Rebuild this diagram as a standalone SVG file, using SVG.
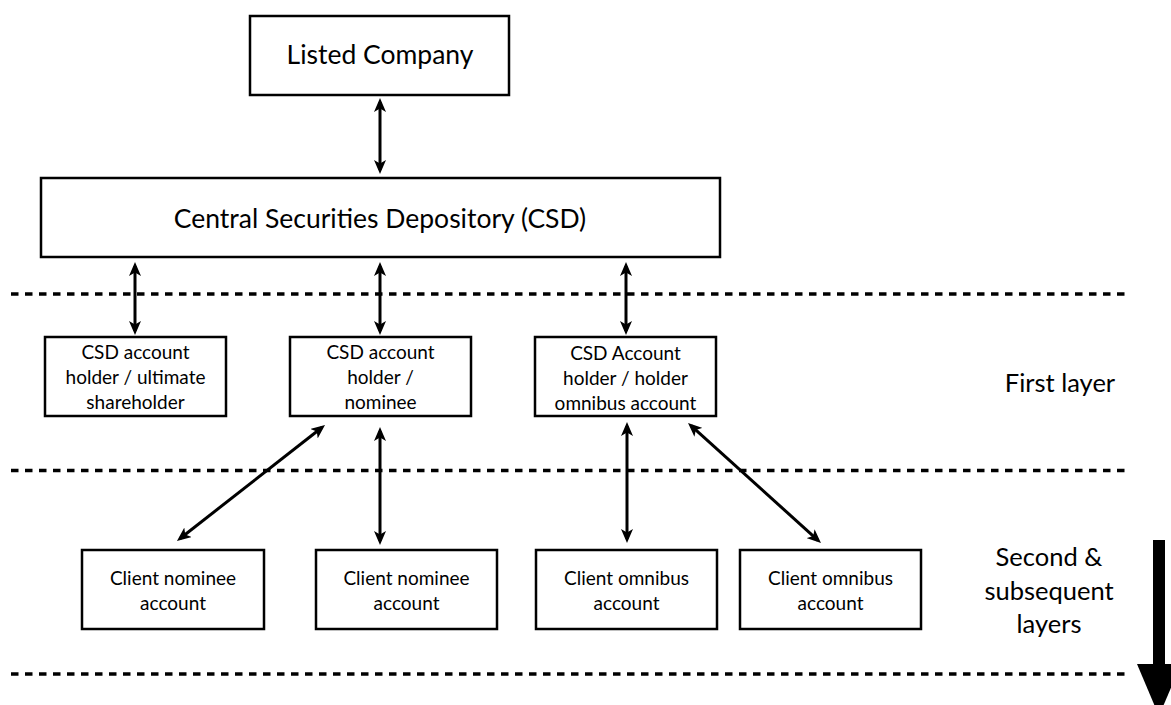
<svg xmlns="http://www.w3.org/2000/svg" width="1171" height="705" viewBox="0 0 1171 705">
<defs>
<marker id="ah" viewBox="0 0 14 12" refX="10" refY="6" markerWidth="14" markerHeight="12" markerUnits="userSpaceOnUse" orient="auto-start-reverse">
<path d="M0,0 L14,6 L0,12 L3.5,6 z" fill="#000"/>
</marker>
</defs>
<style>
.box{fill:#fff;stroke:#000;stroke-width:2.5}
.t{font-family:Lato,"Liberation Sans",sans-serif;fill:#000;text-anchor:middle}
.big{font-size:26.5px}
.mid{font-size:19px}
.sm{font-size:19px}
.lbl{font-size:25.5px}
.dash{stroke:#000;stroke-width:3.5;stroke-dasharray:7.5 6.5;fill:none}
.con{stroke:#000;stroke-width:3;fill:none;marker-start:url(#ah);marker-end:url(#ah)}
</style>
<rect width="1171" height="705" fill="#fff"/>
<g id="layers">
<line class="dash" x1="11" y1="294" x2="1130" y2="294"/>
<line class="dash" x1="11" y1="470.5" x2="1130" y2="470.5"/>
<line class="dash" x1="11" y1="674" x2="1130" y2="674"/>
</g>
<g id="connectors">
<line class="con" x1="380" y1="102" x2="380" y2="170"/>
<line class="con" x1="135" y1="266" x2="135" y2="331"/>
<line class="con" x1="380" y1="266" x2="380" y2="331"/>
<line class="con" x1="626" y1="266" x2="626" y2="331"/>
<line class="con" x1="321.9" y1="427.5" x2="180.1" y2="538.5"/>
<line class="con" x1="380" y1="431" x2="380" y2="541"/>
<line class="con" x1="627" y1="426" x2="627" y2="539"/>
<line class="con" x1="691" y1="425.7" x2="818" y2="540.3"/>
</g>
<g id="listed-company">
<rect class="box" x="250" y="16" width="259" height="79"/>
<text class="t big" x="380" y="64">Listed Company</text>
</g>
<g id="csd">
<rect class="box" x="41" y="178" width="679" height="79"/>
<text class="t big" x="380" y="228">Central Securities Depository (CSD)</text>
</g>
<g id="holder-ultimate">
<rect class="box" x="45" y="337" width="181" height="79"/>
<text class="t mid" x="135.5" y="359">CSD account</text>
<text class="t mid" x="135.5" y="384">holder / ultimate</text>
<text class="t mid" x="135.5" y="409">shareholder</text>
</g>
<g id="holder-nominee">
<rect class="box" x="290" y="337" width="181" height="79"/>
<text class="t mid" x="380.5" y="359">CSD account</text>
<text class="t mid" x="380.5" y="384">holder /</text>
<text class="t mid" x="380.5" y="409">nominee</text>
</g>
<g id="holder-omnibus">
<rect class="box" x="535" y="337" width="181" height="79"/>
<text class="t sm" x="625.5" y="360">CSD Account</text>
<text class="t sm" x="625.5" y="385">holder / holder</text>
<text class="t sm" x="625.5" y="410">omnibus account</text>
</g>
<g id="client-nominee-1">
<rect class="box" x="82" y="550" width="182" height="79"/>
<text class="t sm" x="173" y="585">Client nominee</text>
<text class="t sm" x="173" y="610">account</text>
</g>
<g id="client-nominee-2">
<rect class="box" x="316" y="550" width="181" height="79"/>
<text class="t sm" x="406.5" y="585">Client nominee</text>
<text class="t sm" x="406.5" y="610">account</text>
</g>
<g id="client-omnibus-1">
<rect class="box" x="536" y="550" width="181" height="79"/>
<text class="t sm" x="626.5" y="585">Client omnibus</text>
<text class="t sm" x="626.5" y="610">account</text>
</g>
<g id="client-omnibus-2">
<rect class="box" x="740" y="550" width="181" height="79"/>
<text class="t sm" x="830.5" y="585">Client omnibus</text>
<text class="t sm" x="830.5" y="610">account</text>
</g>
<g id="first-layer-label">
<text class="t lbl" x="1060" y="392">First layer</text>
</g>
<g id="second-layer-label">
<text class="t lbl" x="1049" y="566">Second &amp;</text>
<text class="t lbl" x="1049" y="600">subsequent</text>
<text class="t lbl" x="1049" y="633">layers</text>
</g>
<g id="depth-arrow">
<rect x="1153" y="540" width="12" height="130" fill="#000"/>
<path d="M1137,664 L1181,664 L1159,716 z" fill="#000"/>
</g>
</svg>
